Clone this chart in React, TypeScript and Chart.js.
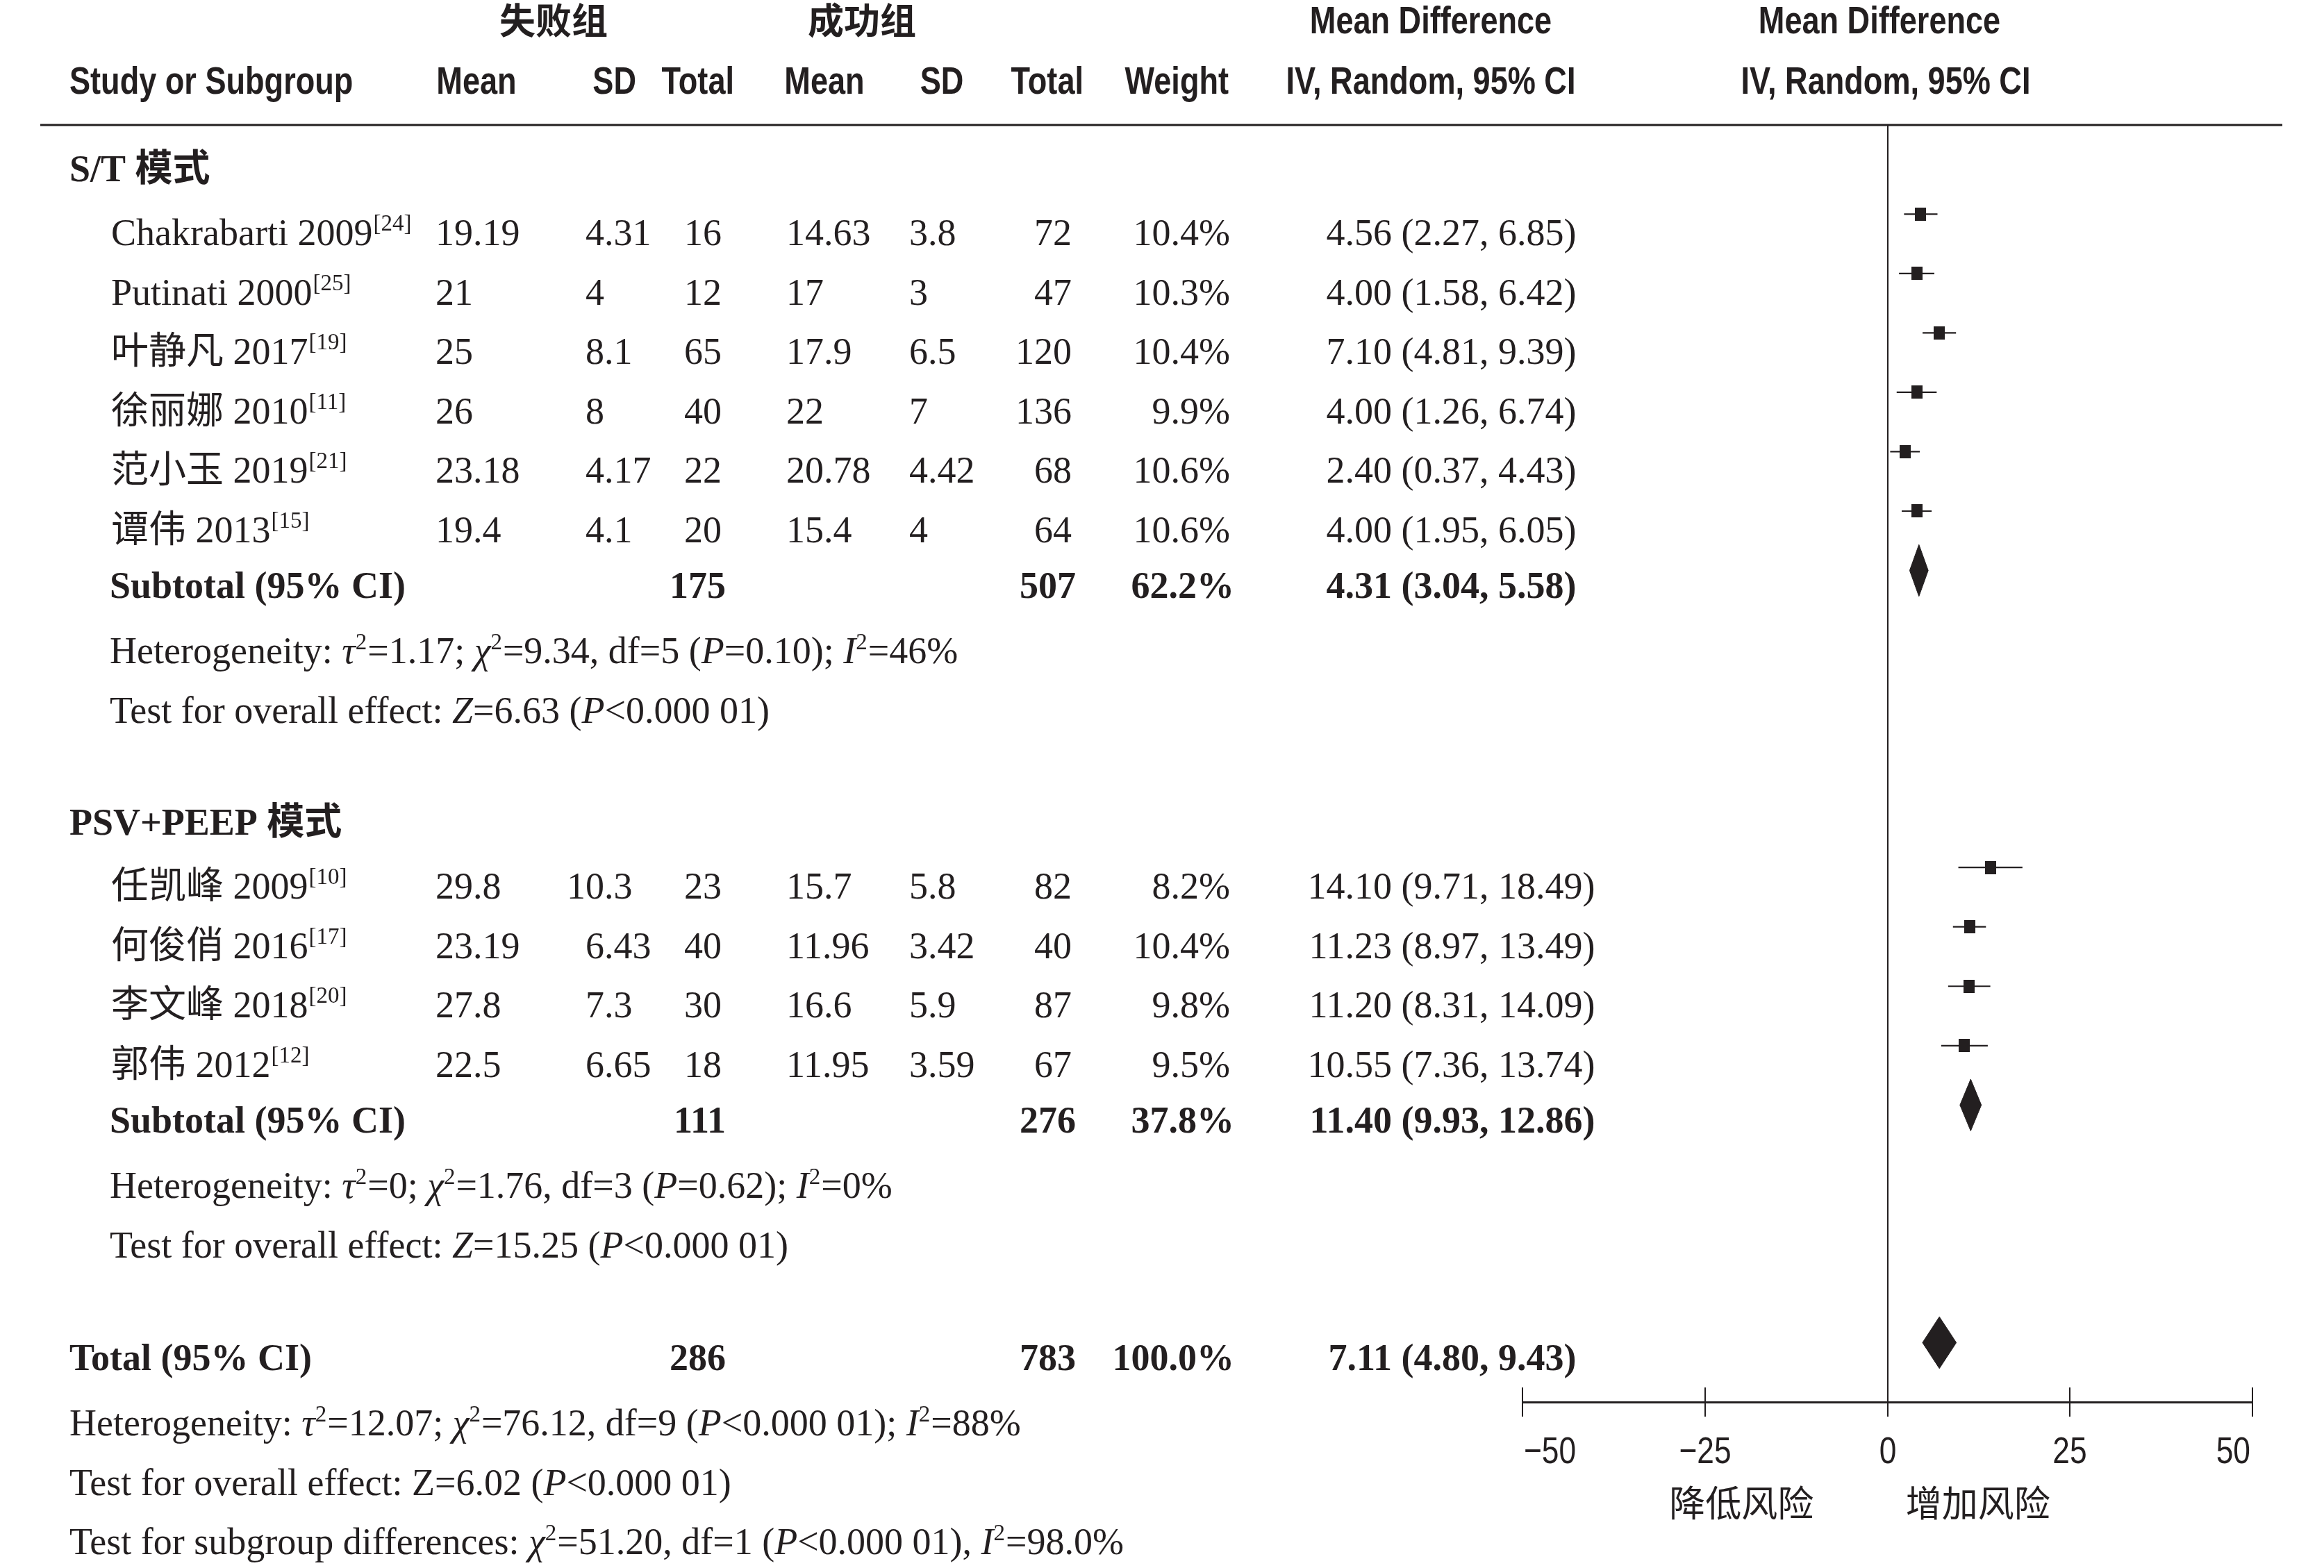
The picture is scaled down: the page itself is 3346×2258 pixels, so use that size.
import React, { useEffect, useRef } from "react";
import { Chart, registerables } from "chart.js";

Chart.register(...registerables);

// ---------------- data ----------------
const headerGroups = ["失败组", "成功组"];
const groupLabels = ["S/T 模式", "PSV+PEEP 模式"];
const groupSizes = [6, 4];
const studyNames = ["Chakrabarti 2009", "Putinati 2000", "叶静凡 2017", "徐丽娜 2010", "范小玉 2019", "谭伟 2013", "任凯峰 2009", "何俊俏 2016", "李文峰 2018", "郭伟 2012"];
const studyRefs = ["[24]", "[25]", "[19]", "[11]", "[21]", "[15]", "[10]", "[17]", "[20]", "[12]"];
const failMean = [19.19, 21, 25, 26, 23.18, 19.4, 29.8, 23.19, 27.8, 22.5];
const failSD = [4.31, 4, 8.1, 8, 4.17, 4.1, 10.3, 6.43, 7.3, 6.65];
const failTotal = [16, 12, 65, 40, 22, 20, 23, 40, 30, 18];
const succMean = [14.63, 17, 17.9, 22, 20.78, 15.4, 15.7, 11.96, 16.6, 11.95];
const succSD = [3.8, 3, 6.5, 7, 4.42, 4, 5.8, 3.42, 5.9, 3.59];
const succTotal = [72, 47, 120, 136, 68, 64, 82, 40, 87, 67];
const weights = [10.4, 10.3, 10.4, 9.9, 10.6, 10.6, 8.2, 10.4, 9.8, 9.5];
const meanDiff = [4.56, 4.0, 7.1, 4.0, 2.4, 4.0, 14.1, 11.23, 11.2, 10.55];
const ciLow = [2.27, 1.58, 4.81, 1.26, 0.37, 1.95, 9.71, 8.97, 8.31, 7.36];
const ciHigh = [6.85, 6.42, 9.39, 6.74, 4.43, 6.05, 18.49, 13.49, 14.09, 13.74];
const subFailTotal = [175, 111];
const subSuccTotal = [507, 276];
const subWeight = [62.2, 37.8];
const subMeanDiff = [4.31, 11.4];
const subLow = [3.04, 9.93];
const subHigh = [5.58, 12.86];
const subHeterogeneity = [
  "Heterogeneity: *τ*^2=1.17; *χ*^2=9.34, df=5 (*P*=0.10); *I*^2=46%",
  "Heterogeneity: *τ*^2=0; *χ*^2=1.76, df=3 (*P*=0.62); *I*^2=0%",
];
const subEffect = [
  "Test for overall effect: *Z*=6.63 (*P*<0.000 01)",
  "Test for overall effect: *Z*=15.25 (*P*<0.000 01)",
];
const totalFail = 286;
const totalSucc = 783;
const totalWeight = 100.0;
const totalMD = 7.11;
const totalLow = 4.8;
const totalHigh = 9.43;
const totalHeterogeneity = "Heterogeneity: *τ*^2=12.07; *χ*^2=76.12, df=9 (*P*<0.000 01); *I*^2=88%";
const totalEffect = "Test for overall effect: Z=6.02 (*P*<0.000 01)";
const subgroupDiff = "Test for subgroup differences: *χ*^2=51.20, df=1 (*P*<0.000 01), *I*^2=98.0%";
const xTicks = [-50, -25, 0, 25, 50];
const favourLabels = ["降低风险", "增加风险"];

// ---------------- styling / layout ----------------
const DARK = "#231f20";
const SERIF = '"Liberation Serif", "Noto Sans CJK SC", serif';
const CJK = '"Noto Sans CJK SC", sans-serif';
const SANS = '"Liberation Sans", Arial, sans-serif';
const W = 3346;
const H = 2258;
const FS = 54;
const TEXT_DY = 45;
const DIAMOND_H = 0.435;
const COL = {
  left: 100,
  name: 160,
  mean1: 627,
  sd1Dec: 870,
  total1: 1039,
  mean2: 1132,
  sd2: 1309,
  total2: 1543,
  weight: 1771,
  ciEst: 2004,
};
const BOLD_SHIFT = 6;

// row layout (in row units)
const studyRows: number[] = [];
const subRows: number[] = [];
const groupStarts: number[] = [];
let rowCursor = 0;
groupSizes.forEach((n) => {
  groupStarts.push(rowCursor);
  for (let k = 0; k < n; k++) studyRows.push(rowCursor + k);
  subRows.push(rowCursor + n);
  rowCursor += n + 5;
});
const totalRow = rowCursor - 1;

// ---------------- helpers ----------------
function serifFont(size: number, bold = false, italic = false) {
  return `${italic ? "italic " : ""}${bold ? "bold " : ""}${size}px ${SERIF}`;
}

type Seg = { t: string; i: boolean; s: boolean };
function parseRich(s: string): Seg[] {
  const segs: Seg[] = [];
  let italic = false;
  let buf = "";
  for (let i = 0; i < s.length; i++) {
    const c = s[i];
    if (c === "*") {
      if (buf) segs.push({ t: buf, i: italic, s: false });
      buf = "";
      italic = !italic;
    } else if (c === "^") {
      if (buf) segs.push({ t: buf, i: italic, s: false });
      buf = "";
      segs.push({ t: s[i + 1], i: false, s: true });
      i++;
    } else buf += c;
  }
  if (buf) segs.push({ t: buf, i: italic, s: false });
  return segs;
}

function drawRich(ctx: CanvasRenderingContext2D, s: string, x: number, y: number, size: number, bold = false) {
  let cx = x;
  ctx.textAlign = "left";
  parseRich(s).forEach((seg) => {
    const sz = seg.s ? Math.round(size * 0.62) : size;
    ctx.font = serifFont(sz, bold, seg.i);
    const dy = seg.s ? -size * 0.38 : 0;
    ctx.fillText(seg.t, cx, y + dy);
    cx += ctx.measureText(seg.t).width + (seg.s ? 1 : 0);
  });
}

function drawNarrow(ctx: CanvasRenderingContext2D, text: string, x: number, y: number, align: CanvasTextAlign, size = 55, bold = true) {
  ctx.save();
  ctx.translate(x, y);
  ctx.scale(0.82, 1);
  ctx.font = `${bold ? "bold " : ""}${size}px ${SANS}`;
  ctx.textAlign = align;
  ctx.fillText(text, 0, 0);
  ctx.restore();
}

function textAt(ctx: CanvasRenderingContext2D, text: string, x: number, y: number, align: CanvasTextAlign, bold = false) {
  ctx.font = serifFont(FS, bold);
  ctx.textAlign = align;
  ctx.fillText(text, x, y);
}

function decimalAt(ctx: CanvasRenderingContext2D, v: number, xDec: number, y: number) {
  const s = String(v);
  ctx.font = serifFont(FS);
  ctx.textAlign = "left";
  const intW = ctx.measureText(s.split(".")[0]).width;
  ctx.fillText(s, xDec - intW, y);
}

function ciText(ctx: CanvasRenderingContext2D, md: number, lo: number, hi: number, y: number, bold = false) {
  ctx.font = serifFont(FS, bold);
  ctx.textAlign = "left";
  const est = md.toFixed(2);
  const w = ctx.measureText(est).width;
  ctx.fillText(`${est} (${lo.toFixed(2)}, ${hi.toFixed(2)})`, COL.ciEst - w, y);
}

const tablePlugin = {
  id: "forestTable",
  afterDraw(chart: any) {
    const ctx: CanvasRenderingContext2D = chart.ctx;
    const ys = chart.scales.y;
    const xs = chart.scales.x;
    const area = chart.chartArea;
    const ty = (r: number) => ys.getPixelForValue(r) + TEXT_DY;
    ctx.save();
    ctx.fillStyle = DARK;
    ctx.strokeStyle = DARK;
    ctx.textBaseline = "alphabetic";

    // header rule
    ctx.lineWidth = 3;
    ctx.beginPath();
    ctx.moveTo(58, area.top);
    ctx.lineTo(area.right + 43, area.top);
    ctx.stroke();

    // tick stubs above the axis + tick labels (condensed)
    ctx.lineWidth = 2;
    const tks = xs.ticks as { value: number }[];
    tks.forEach((t, i) => {
      const px = Math.round(xs.getPixelForValue(t.value));
      ctx.beginPath();
      ctx.moveTo(px, area.bottom - 21);
      ctx.lineTo(px, area.bottom);
      ctx.stroke();
      const label = t.value < 0 ? "−" + Math.abs(t.value) : String(t.value);
      const align: CanvasTextAlign = i === 0 ? "left" : i === tks.length - 1 ? "right" : "center";
      drawNarrow(ctx, label, px + (i === 0 ? 2 : i === tks.length - 1 ? -3 : 0), area.bottom + 88, align, 54, false);
    });

    // header line 1
    ctx.font = `bold 52px ${CJK}`;
    ctx.textAlign = "center";
    ctx.fillText(headerGroups[0], 797, 49);
    ctx.fillText(headerGroups[1], 1241, 49);
    drawNarrow(ctx, "Mean Difference", 2060, 48, "center");
    drawNarrow(ctx, "Mean Difference", 2706, 48, "center");
    // header line 2
    const hy = 135;
    drawNarrow(ctx, "Study or Subgroup", 100, hy, "left");
    drawNarrow(ctx, "Mean", 686, hy, "center");
    drawNarrow(ctx, "SD", 916, hy, "right");
    drawNarrow(ctx, "Total", 1057, hy, "right");
    drawNarrow(ctx, "Mean", 1187, hy, "center");
    drawNarrow(ctx, "SD", 1356, hy, "center");
    drawNarrow(ctx, "Total", 1560, hy, "right");
    drawNarrow(ctx, "Weight", 1769, hy, "right");
    drawNarrow(ctx, "IV, Random, 95% CI", 2060, hy, "center");
    drawNarrow(ctx, "IV, Random, 95% CI", 2715, hy, "center");

    // groups
    let idx = 0;
    groupSizes.forEach((n, g) => {
      const start = groupStarts[g];
      drawRich(ctx, groupLabels[g], COL.left, ty(start - 1.08), FS, true);
      for (let k = 0; k < n; k++, idx++) {
        const y = ty(studyRows[idx]);
        ctx.font = serifFont(FS);
        ctx.textAlign = "left";
        ctx.fillText(studyNames[idx], COL.name, y);
        const nw = ctx.measureText(studyNames[idx]).width;
        ctx.font = serifFont(33);
        ctx.fillText(studyRefs[idx], COL.name + nw + 1, y - 21);
        textAt(ctx, String(failMean[idx]), COL.mean1, y, "left");
        decimalAt(ctx, failSD[idx], COL.sd1Dec, y);
        textAt(ctx, String(failTotal[idx]), COL.total1, y, "right");
        textAt(ctx, String(succMean[idx]), COL.mean2, y, "left");
        textAt(ctx, String(succSD[idx]), COL.sd2, y, "left");
        textAt(ctx, String(succTotal[idx]), COL.total2, y, "right");
        textAt(ctx, weights[idx].toFixed(1) + "%", COL.weight, y, "right");
        ciText(ctx, meanDiff[idx], ciLow[idx], ciHigh[idx], y);
      }
      const sy = ty(subRows[g] - 0.06);
      textAt(ctx, "Subtotal (95% CI)", COL.name - 2, sy, "left", true);
      textAt(ctx, String(subFailTotal[g]), COL.total1 + BOLD_SHIFT, sy, "right", true);
      textAt(ctx, String(subSuccTotal[g]), COL.total2 + BOLD_SHIFT, sy, "right", true);
      textAt(ctx, subWeight[g].toFixed(1) + "%", COL.weight + BOLD_SHIFT, sy, "right", true);
      ciText(ctx, subMeanDiff[g], subLow[g], subHigh[g], sy, true);
      drawRich(ctx, subHeterogeneity[g], COL.name - 2, ty(subRows[g] + 1.04), FS);
      drawRich(ctx, subEffect[g], COL.name - 2, ty(subRows[g] + 2.04), FS);
    });

    // total
    const tyy = ty(totalRow - 0.06);
    textAt(ctx, "Total (95% CI)", COL.left, tyy, "left", true);
    textAt(ctx, String(totalFail), COL.total1 + BOLD_SHIFT, tyy, "right", true);
    textAt(ctx, String(totalSucc), COL.total2 + BOLD_SHIFT, tyy, "right", true);
    textAt(ctx, totalWeight.toFixed(1) + "%", COL.weight + BOLD_SHIFT, tyy, "right", true);
    ciText(ctx, totalMD, totalLow, totalHigh, tyy, true);
    drawRich(ctx, totalHeterogeneity, COL.left, ty(totalRow + 1.04), FS);
    drawRich(ctx, totalEffect, COL.left, ty(totalRow + 2.04), FS);
    drawRich(ctx, subgroupDiff, COL.left, ty(totalRow + 3.04), FS);

    // favour labels
    ctx.font = `52px ${CJK}`;
    ctx.textAlign = "center";
    ctx.fillText(favourLabels[0], xs.getPixelForValue(-20), 2184);
    ctx.fillText(favourLabels[1], xs.getPixelForValue(12.4), 2184);
    ctx.restore();
  },
};

export default function App() {
  const ref = useRef<HTMLCanvasElement | null>(null);

  useEffect(() => {
    if (!ref.current) return;
    let cancelled = false;

    const sq = document.createElement("canvas");
    sq.width = 16;
    sq.height = 19;
    const sctx = sq.getContext("2d")!;
    sctx.fillStyle = DARK;
    sctx.fillRect(0, 0, 16, 19);

    const datasets: any[] = [];
    datasets.push({
      label: "estimates",
      data: meanDiff.map((v, i) => ({ x: v, y: studyRows[i] })),
      pointStyle: sq,
      pointRadius: 10,
      showLine: false,
      backgroundColor: DARK,
      borderColor: DARK,
    });
    const diamonds = [
      ...subMeanDiff.map((m, g) => ({ m, lo: subLow[g], hi: subHigh[g], row: subRows[g] })),
      { m: totalMD, lo: totalLow, hi: totalHigh, row: totalRow },
    ];
    diamonds.forEach((d, i) => {
      datasets.push({
        label: "diamond" + i,
        data: [
          { x: d.lo, y: d.row },
          { x: d.m, y: d.row - DIAMOND_H },
          { x: d.hi, y: d.row },
          { x: d.m, y: d.row + DIAMOND_H },
          { x: d.lo, y: d.row },
        ],
        showLine: true,
        fill: "shape",
        backgroundColor: DARK,
        borderColor: DARK,
        borderWidth: 1,
        pointRadius: 0,
        tension: 0,
      });
    });
    meanDiff.forEach((_, i) => {
      datasets.push({
        label: "ci" + i,
        data: [
          { x: ciLow[i], y: studyRows[i] },
          { x: ciHigh[i], y: studyRows[i] },
        ],
        showLine: true,
        borderColor: DARK,
        borderWidth: 2.2,
        pointRadius: 0,
        fill: false,
      });
    });

    const chart = new Chart(ref.current, {
      type: "scatter",
      data: { datasets },
      plugins: [tablePlugin],
      options: {
        responsive: false,
        animation: false,
        events: [],
        layout: { padding: { left: 2192, right: 103, top: 180, bottom: 139 } },
        plugins: { legend: { display: false }, tooltip: { enabled: false } },
        scales: {
          x: {
            type: "linear",
            min: -50,
            max: 50,
            afterBuildTicks: (scale: any) => {
              scale.ticks = xTicks.map((v) => ({ value: v }));
            },
            afterFit: (scale: any) => {
              scale.height = 100;
            },
            ticks: { display: false },
            grid: {
              drawOnChartArea: true,
              color: (c: any) => (c.tick && c.tick.value === 0 ? DARK : "rgba(0,0,0,0)"),
              tickColor: DARK,
              tickLength: 21,
              lineWidth: 2,
            },
            border: { display: true, color: DARK, width: 3 },
          },
          y: {
            type: "linear",
            display: false,
            reverse: true,
            min: -1.5,
            max: totalRow + 1,
          },
        },
      },
    } as any);

    const specs = [
      `${FS}px "Liberation Serif"`,
      `bold ${FS}px "Liberation Serif"`,
      `italic ${FS}px "Liberation Serif"`,
      `bold 55px "Liberation Sans"`,
      `54px "Liberation Sans"`,
      `52px "Noto Sans CJK SC"`,
      `bold 52px "Noto Sans CJK SC"`,
    ];
    Promise.all(specs.map((f) => document.fonts.load(f, "Ab1失败组").catch(() => [])))
      .then(() => {
        if (!cancelled) chart.update();
      })
      .catch(() => {});

    return () => {
      cancelled = true;
      chart.destroy();
    };
  }, []);

  return (
    <div style={{ position: "absolute", left: 0, top: 0, width: W, height: H, background: "#fff" }}>
      <canvas ref={ref} width={W} height={H} style={{ display: "block", width: W, height: H }} />
    </div>
  );
}
